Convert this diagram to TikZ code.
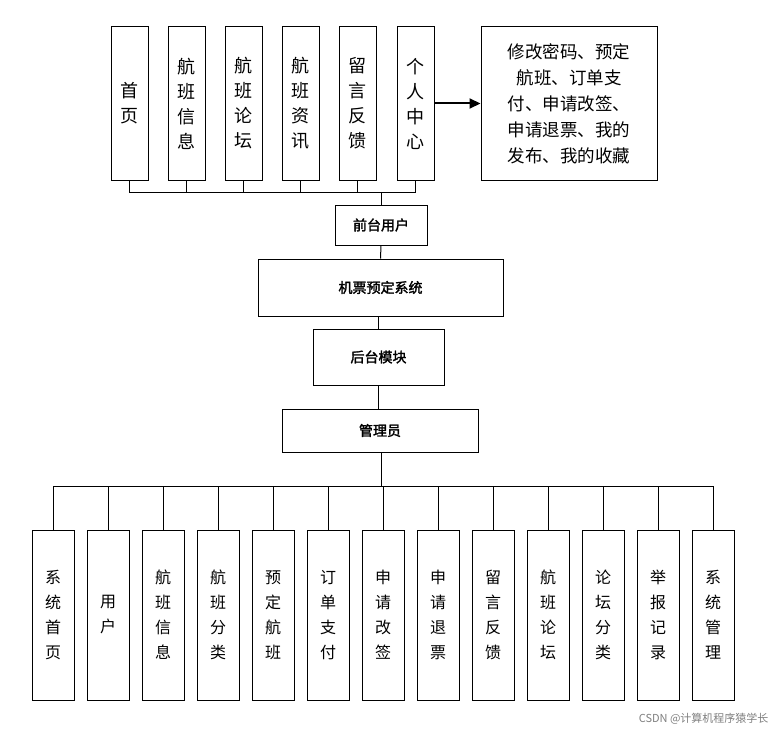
\documentclass[tikz,border=0pt]{standalone}
\usepackage{fontspec}
\setmainfont{Noto Sans CJK SC}
\newfontfamily\cjkb[FakeBold=2]{Noto Sans CJK SC}
\usetikzlibrary{arrows.meta}
\begin{document}
\begin{tikzpicture}[x=1pt,y=-1pt,
  box/.style={draw,line width=1pt,inner sep=0pt,align=center},
  vt/.style={box,minimum width=37pt,minimum height=153pt,font=\fontsize{18}{25}\selectfont},
  vb/.style={box,minimum width=42pt,minimum height=170pt,font=\fontsize{16}{25}\selectfont},
  hb/.style={box,font=\cjkb\fontsize{14}{16}\selectfont},
  ln/.style={line width=1pt}]
\useasboundingbox (0,0) rectangle (779,733);
\fill[white] (0,0) rectangle (779,733);
\node[vt] (t1) at (129.5,103.5) {首\\页};
\node[vt] (t2) at (186.5,103.5) {航\\班\\信\\息};
\node[vt] (t3) at (243.5,103.5) {航\\班\\论\\坛};
\node[vt] (t4) at (300.5,103.5) {航\\班\\资\\讯};
\node[vt] (t5) at (357.5,103.5) {留\\言\\反\\馈};
\node[vt] (t6) at (415.5,103.5) {个\\人\\中\\心};
\node[box,minimum width=176pt,minimum height=153pt,font=\fontsize{17.5}{26}\selectfont] (big) at (569,103.5) {修改密码、预定\\航班、订单支\\付、申请改签、\\申请退票、我的\\发布、我的收藏};
\draw[line width=2pt,-{Triangle[length=11pt,width=10pt]}] (t6) -- (big);
\node[hb,minimum width=92pt,minimum height=40pt] (qt) at (381,225) {前台用户};
\node[hb,minimum width=245pt,minimum height=57pt] (sys) at (380.5,287.5) {机票预定系统};
\node[hb,minimum width=131pt,minimum height=56pt] (ht) at (378.5,357) {后台模块};
\node[hb,minimum width=196pt,minimum height=43pt] (adm) at (380,430.5) {管理员};
\coordinate (bus) at (381,192);
\draw[ln] (t1.south) |- (t6.south |- bus) -- (t6.south);
\foreach \n in {t2,t3,t4,t5} \draw[ln] (\n.south) -- (\n.south |- bus);
\draw[ln] (bus) -- (qt.north);
\draw[ln] (qt.south) -- (sys.north);
\draw[ln] (sys.south -| ht.north) -- (ht.north);
\draw[ln] (ht.south) -- (ht.south |- adm.north);
\foreach \i/\t in {0/{系\\统\\首\\页},1/{用\\户},2/{航\\班\\信\\息},3/{航\\班\\分\\类},4/{预\\定\\航\\班},5/{订\\单\\支\\付},6/{申\\请\\改\\签},7/{申\\请\\退\\票},8/{留\\言\\反\\馈},9/{航\\班\\论\\坛},10/{论\\坛\\分\\类},11/{举\\报\\记\\录},12/{系\\统\\管\\理}}
  \node[vb] (b\i) at ({53+55*\i},615) {\t};
\coordinate (bb) at (381,486);
\draw[ln] (adm.south -| bb) -- (bb);
\draw[ln] (b0.north) |- (b12.north |- bb) -- (b12.north);
\foreach \i in {1,...,11} \draw[ln] (b\i.north) -- (b\i.north |- bb);
\node[text=gray,font=\fontsize{11}{12}\selectfont,anchor=east] (wm) at (772,719) {CSDN @计算机程序猿学长};
\end{tikzpicture}
\end{document}
